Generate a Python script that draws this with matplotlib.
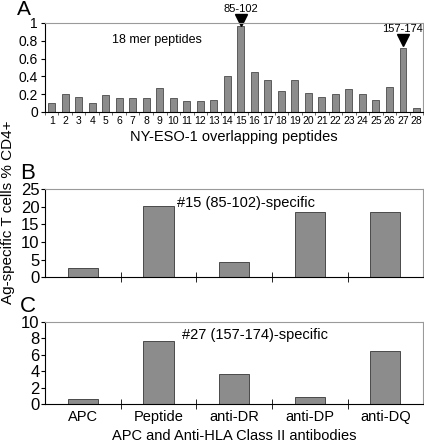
import matplotlib
matplotlib.use("Agg")
import matplotlib.pyplot as plt
import numpy as np

plt.rcParams['font.family'] = ['Liberation Sans', 'DejaVu Sans']

# panel A: NY-ESO-1 overlapping 18 mer peptides
peptides = list(range(1, 29))
peptide_resp = [0.10, 0.20, 0.17, 0.10, 0.19, 0.16, 0.16, 0.16, 0.27, 0.15,
                0.12, 0.12, 0.13, 0.40, 0.97, 0.45, 0.36, 0.24, 0.36, 0.21,
                0.17, 0.20, 0.26, 0.20, 0.13, 0.28, 0.72, 0.04]

# panels B and C: blocking with anti-HLA class II antibodies
conditions = ['APC', 'Peptide', 'anti-DR', 'anti-DP', 'anti-DQ']
resp_15 = [2.7, 20.1, 4.4, 18.4, 18.4]
resp_27 = [0.6, 7.7, 3.6, 0.8, 6.5]

bar_col = '#8c8c8c'
edge_col = '#4a4a4a'
frame_col = '#9a9a9a'

fig = plt.figure(figsize=(4.24, 4.42), dpi=100)


def style_frame(ax):
    ax.spines['top'].set_color(frame_col)
    ax.spines['right'].set_color(frame_col)
    for s in ax.spines.values():
        s.set_linewidth(0.8)


# ---- A ----
axA = fig.add_axes([0.106, 0.747, 0.892, 0.201])
axA.bar(peptides, peptide_resp, width=0.5, color=bar_col, edgecolor=edge_col, linewidth=0.6)
axA.set_xlim(0.5, 28.5)
axA.set_ylim(0, 1)
axA.set_yticks([0, 0.2, 0.4, 0.6, 0.8, 1])
axA.set_yticklabels(['0', '0.2', '0.4', '0.6', '0.8', '1'], fontsize=10)
axA.set_xticks(peptides)
axA.set_xticklabels([str(p) for p in peptides], fontsize=7.5)
axA.set_xticks(np.arange(0.5, 29, 1), minor=True)
axA.tick_params(axis='x', which='major', length=0, pad=3)
axA.tick_params(axis='x', which='minor', length=2.5, direction='out', color='#555555')
axA.tick_params(axis='y', length=3, pad=2)
style_frame(axA)
axA.set_xlabel('NY-ESO-1 overlapping peptides', fontsize=10.5, labelpad=3)
axA.text(8.8, 0.81, '18 mer peptides', fontsize=9, ha='center', va='center')
# arrows marking the two epitopes
axA.plot([15], [1.03], marker='v', color='black', markersize=8, clip_on=False)
axA.text(15, 1.10, '85-102', fontsize=8, ha='center', va='bottom')
axA.plot([27], [0.81], marker='v', color='black', markersize=8, clip_on=False)
axA.text(27, 0.88, '157-174', fontsize=8, ha='center', va='bottom')
fig.text(0.056, 0.979, 'A', fontsize=15, ha='center', va='center')

# ---- B and C ----
def cond_panel(rect, vals, ymax, step, title, tx, ty, letter, ly, show_labels):
    ax = fig.add_axes(rect)
    x = np.arange(len(conditions))
    ax.bar(x, vals, width=0.4, color=bar_col, edgecolor=edge_col, linewidth=0.7)
    ax.set_xlim(-0.5, 4.5)
    ax.set_ylim(0, ymax)
    ticks = np.arange(0, ymax + 0.1, step)
    ax.set_yticks(ticks)
    ax.set_yticklabels([str(int(v)) for v in ticks], fontsize=12)
    ax.tick_params(axis='y', length=3, pad=1)
    ax.set_xticks(np.arange(0.5, 4, 1), minor=True)
    ax.tick_params(axis='x', which='minor', length=7, direction='inout')
    if show_labels:
        ax.set_xticks(x)
        ax.set_xticklabels(conditions, fontsize=10.5)
        ax.tick_params(axis='x', which='major', length=0, pad=4)
    else:
        ax.set_xticks([])
    style_frame(ax)
    ax.text(tx, ty, title, fontsize=10.5, ha='center', va='center')
    fig.text(0.066, ly, letter, fontsize=16, ha='center', va='center')
    return ax


axB = cond_panel([0.106, 0.373, 0.892, 0.199], resp_15, 25, 5,
                 '#15 (85-102)-specific', 2.16, 21, 'B', 0.607, False)
axC = cond_panel([0.106, 0.086, 0.892, 0.1855], resp_27, 10, 2,
                 '#27 (157-174)-specific', 2.28, 8.4, 'C', 0.307, True)
axC.set_xlabel('APC and Anti-HLA Class II antibodies', fontsize=10.5, labelpad=4)

fig.text(0.019, 0.52, 'Ag-specific T cells % CD4+', rotation=90, fontsize=11,
         ha='center', va='center')

fig.savefig('out.png', dpi=100)
